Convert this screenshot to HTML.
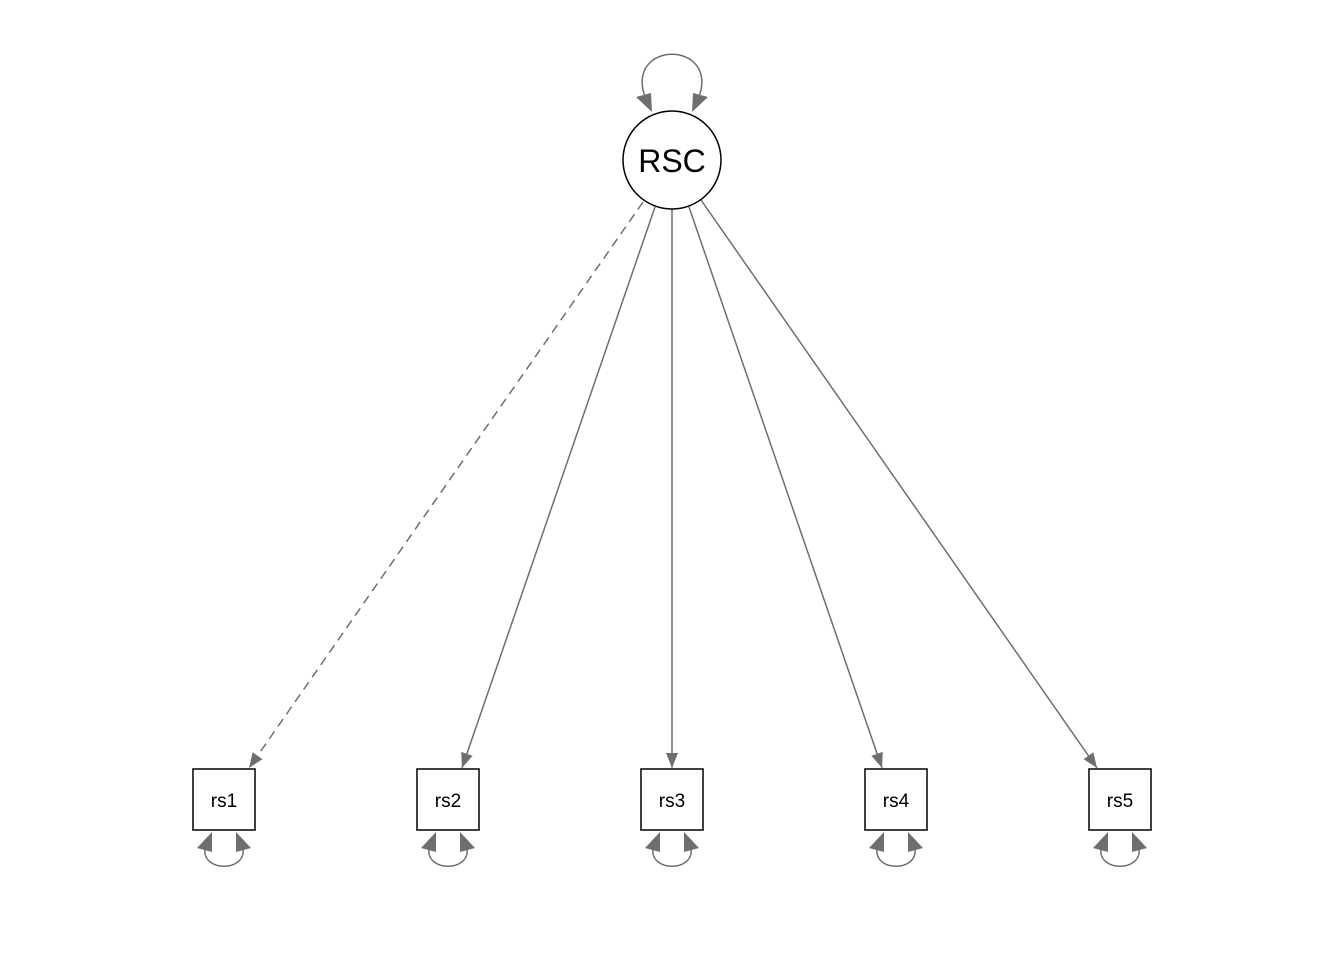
<!DOCTYPE html>
<html><head><style>
html,body{margin:0;padding:0;background:#fff;}
svg{display:block;}
text{font-family:"Liberation Sans",Arial,sans-serif;fill:#000;}
</style></head><body>
<svg width="1344" height="960" viewBox="0 0 1344 960" xmlns="http://www.w3.org/2000/svg">
<defs>
<marker id="ah" markerWidth="16" markerHeight="12" refX="15" refY="6" orient="auto" markerUnits="userSpaceOnUse">
<path d="M0,0 L15,6 L0,12 Z" fill="#6e6e6e"/>
</marker>
<g id="loop">
<path d="M-19,849 C-22,872 22,872 19,849" fill="none" stroke="#6e6e6e" stroke-width="1.5"/>
<polygon points="-12,832 -27,848 -12,852" fill="#6e6e6e"/>
<polygon points="12,832 27,848 12,852" fill="#6e6e6e"/>
</g>
</defs>
<!-- edges -->
<line x1="643" y1="202" x2="249" y2="768" stroke="#6e6e6e" stroke-width="1.5" stroke-dasharray="9,6" marker-end="url(#ah)"/>
<line x1="655" y1="207" x2="462" y2="768" stroke="#6e6e6e" stroke-width="1.5" marker-end="url(#ah)"/>
<line x1="672" y1="209" x2="672" y2="768" stroke="#6e6e6e" stroke-width="1.5" marker-end="url(#ah)"/>
<line x1="689" y1="207" x2="882" y2="768" stroke="#6e6e6e" stroke-width="1.5" marker-end="url(#ah)"/>
<line x1="701" y1="200" x2="1097" y2="768" stroke="#6e6e6e" stroke-width="1.5" marker-end="url(#ah)"/>
<!-- top loop -->
<path d="M645,97 C625,40 719,40 699,97" fill="none" stroke="#6e6e6e" stroke-width="1.5"/>
<polygon points="636,97 651,93 652,112" fill="#6e6e6e"/>
<polygon points="708,97 693,93 692,112" fill="#6e6e6e"/>
<!-- latent -->
<circle cx="672" cy="160" r="49" fill="#fff" stroke="#000" stroke-width="1.5"/>
<text x="672" y="172" font-size="32" text-anchor="middle">RSC</text>
<!-- boxes -->
<g stroke="#000" stroke-width="1.5" fill="#fff">
<rect x="193" y="769" width="62" height="61"/>
<rect x="417" y="769" width="62" height="61"/>
<rect x="641" y="769" width="62" height="61"/>
<rect x="865" y="769" width="62" height="61"/>
<rect x="1089" y="769" width="62" height="61"/>
</g>
<g font-size="19" text-anchor="middle">
<text x="224" y="807">rs1</text>
<text x="448" y="807">rs2</text>
<text x="672" y="807">rs3</text>
<text x="896" y="807">rs4</text>
<text x="1120" y="807">rs5</text>
</g>
<use href="#loop" transform="translate(224,0)"/>
<use href="#loop" transform="translate(448,0)"/>
<use href="#loop" transform="translate(672,0)"/>
<use href="#loop" transform="translate(896,0)"/>
<use href="#loop" transform="translate(1120,0)"/>
</svg>
</body></html>
